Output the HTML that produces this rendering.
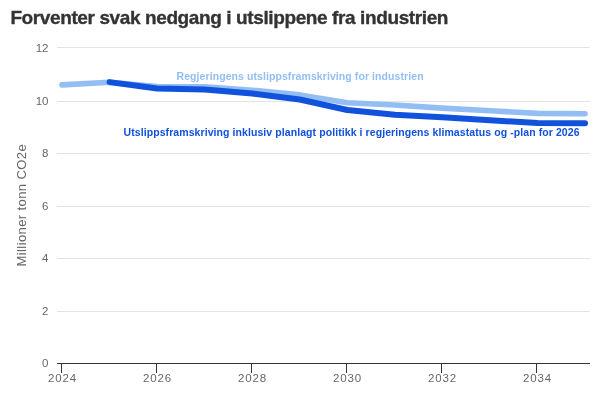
<!DOCTYPE html>
<html><head><meta charset="utf-8"><style>
html,body{margin:0;padding:0;background:#fff;width:600px;height:400px;overflow:hidden}
svg{display:block;will-change:transform}
text{font-family:"Liberation Sans",sans-serif}
.title{font-weight:bold;font-size:19px;fill:#333;letter-spacing:-0.39px}
.tick{font-size:11.5px;fill:#666}
.xt{letter-spacing:0.85px}
.lab{font-weight:bold;font-size:10.5px;letter-spacing:0.08px}
</style></head><body>
<svg width="600" height="400" viewBox="0 0 600 400">
<text x="10.4" y="24" class="title" stroke="#333" stroke-width="0.35">Forventer svak nedgang i utslippene fra industrien</text>
<rect x="57" y="47" width="533" height="1" fill="#e3e3e3"/>
<rect x="57" y="101" width="533" height="1" fill="#e3e3e3"/>
<rect x="57" y="153" width="533" height="1" fill="#e3e3e3"/>
<rect x="57" y="206" width="533" height="1" fill="#e3e3e3"/>
<rect x="57" y="258" width="533" height="1" fill="#e3e3e3"/>
<rect x="57" y="311" width="533" height="1" fill="#e3e3e3"/>
<rect x="57" y="363" width="533" height="1" fill="#333"/>
<rect x="61.00" y="363" width="1" height="10" fill="#333"/>
<rect x="156.00" y="363" width="1" height="10" fill="#333"/>
<rect x="251.00" y="363" width="1" height="10" fill="#333"/>
<rect x="346.00" y="363" width="1" height="10" fill="#333"/>
<rect x="441.00" y="363" width="1" height="10" fill="#333"/>
<rect x="536.00" y="363" width="1" height="10" fill="#333"/>
<text x="48.5" y="52" text-anchor="end" class="tick">12</text>
<text x="48.5" y="105" text-anchor="end" class="tick">10</text>
<text x="48.5" y="157" text-anchor="end" class="tick">8</text>
<text x="48.5" y="210" text-anchor="end" class="tick">6</text>
<text x="48.5" y="262" text-anchor="end" class="tick">4</text>
<text x="48.5" y="315" text-anchor="end" class="tick">2</text>
<text x="48.5" y="367" text-anchor="end" class="tick">0</text>
<text x="61.50" y="382" text-anchor="middle" class="tick xt" dx="1">2024</text>
<text x="156.50" y="382" text-anchor="middle" class="tick xt" dx="1">2026</text>
<text x="251.50" y="382" text-anchor="middle" class="tick xt" dx="1">2028</text>
<text x="346.50" y="382" text-anchor="middle" class="tick xt" dx="1">2030</text>
<text x="441.50" y="382" text-anchor="middle" class="tick xt" dx="1">2032</text>
<text x="536.50" y="382" text-anchor="middle" class="tick xt" dx="1">2034</text>
<text transform="translate(26,205.2) rotate(-90)" text-anchor="middle" style="font-size:13px;fill:#666;letter-spacing:0.4px">Millioner tonn CO2e</text>
<polyline points="62.00,84.90 109.55,82.20 157.10,86.60 204.65,86.80 252.20,90.20 299.75,94.90 347.30,102.80 394.85,105.00 442.40,108.10 489.95,110.80 537.50,113.40 585.05,113.80" fill="none" stroke="#93bef4" stroke-width="5.6" stroke-linecap="round" stroke-linejoin="round"/>
<polyline points="109.55,82.10 157.10,88.50 204.65,89.50 252.20,93.50 299.75,99.50 347.30,110.00 394.85,114.80 442.40,117.30 489.95,120.20 537.50,123.00 585.05,123.30" fill="none" stroke="#1052dc" stroke-width="6" stroke-linecap="round" stroke-linejoin="round"/>
<text x="176.5" y="79.7" class="lab" fill="#93bef4">Regjeringens utslippsframskriving for industrien</text>
<text x="123.5" y="135.7" class="lab" fill="#1052dc">Utslippsframskriving inklusiv planlagt politikk i regjeringens klimastatus og -plan for 2026</text>
</svg>
</body></html>
